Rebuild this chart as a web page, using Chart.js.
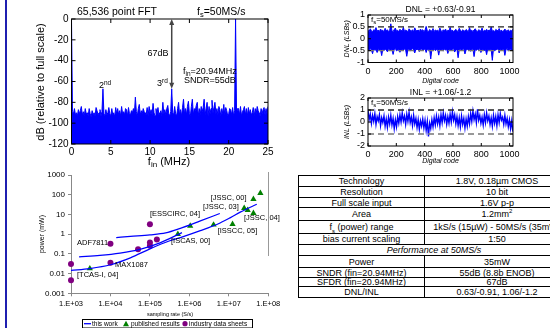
<!DOCTYPE html>
<html>
<head>
<meta charset="utf-8">
<title>10-bit ADC summary</title>
<script src="https://cdn.jsdelivr.net/npm/chart.js@4/dist/chart.umd.min.js"></script>
<style>
  body { margin: 0; background: #fff; width: 550px; height: 328px; overflow: hidden; position: relative;
         font-family: "Liberation Sans", Arial, sans-serif; }
  #edge { position: absolute; left: 5px; top: 0; width: 2px; height: 328px; background: #1f1fb0; z-index: 5; }
  #spec { position: absolute; left: 298px; top: 175px; width: 271px; border-collapse: collapse;
          table-layout: fixed; font-size: 9px; }
  #spec td { border: 1px solid #000; padding: 0; text-align: center; line-height: 8px; white-space: nowrap; overflow: hidden; }
  #spec sup, #spec sub { font-size: 6px; line-height: 0; }
</style>
</head>
<body>
<div id="edge"></div>
<table id="spec"><colgroup><col style="width:126px"><col style="width:145px"></colgroup><tbody></tbody></table>
<script>
// ---- FFT spectrum, one value per 0.125 MHz bin (dBFS) ----
const fftBinMHz = 0.125;
const fftDb = [
  0, -89, -91, -86, -92, -90, -93, -87,
  -91, -88, -84, -92, -89, -93, -86, -91,
  -90, -93, -86, -91, -94, -88, -92, -90,
  -93, -85, -88, -92, -90, -87, -93, -89,
  -67, -91, -93, -87, -92, -90, -85, -91,
  -93, -86, -92, -90, -94, -85, -91, -86,
  -92, -88, -93, -84, -91, -89, -92, -86,
  -87, -93, -85, -91, -92, -88, -90, -86,
  -91, -75, -89, -93, -86, -82, -92, -88,
  -91, -86, -89, -90, -92, -85, -93, -84,
  -91, -87, -92, -81, -90, -93, -86, -91,
  -85, -92, -90, -88, -93, -80, -91, -87,
  -92, -86, -83, -91, -93, -89, -67, -90,
  -92, -84, -91, -93, -86, -80, -92, -87,
  -93, -85, -77, -91, -86, -92, -84, -79,
  -91, -93, -84, -77, -92, -86, -88, -83,
  -80, -93, -86, -92, -84, -89, -85, -77,
  -92, -86, -80, -93, -84, -91, -86, -78,
  -90, -85, -80, -91, -86, -92, -84, -87,
  -93, -86, -91, -82, -92, -85, -88, -93,
  -91, -86, -87, -92, -85, -93, -88, 0,
  -91, -86, -86, -92, -84, -93, -89, -87,
  -84, -92, -86, -93, -85, -91, -87, -92,
  -90, -85, -93, -86, -91, -84, -88, -90,
  -93, -86, -91, -87, -85, -92, -86, -91,
  -84
];
const thirdMHz = 12.75, thirdDb = -67;

// ---- DNL (upper / lower envelope per 8 codes) ----
const dnlHigh = [
  0.36,0.31,0.42,0.33,0.29,0.38,0.35,0.47,0.32,0.37,0.30,0.41,0.34,0.36,0.29,0.44,
  0.33,0.38,0.31,0.35,0.63,0.34,0.30,0.39,0.45,0.32,0.36,0.29,0.40,0.35,0.33,0.48,
  0.31,0.37,0.34,0.30,0.42,0.36,0.32,0.38,0.29,0.46,0.35,0.33,0.37,0.30,0.41,0.34,
  0.38,0.31,0.36,0.52,0.33,0.29,0.39,0.35,0.32,0.43,0.30,0.37,0.34,0.36,0.31,0.45,
  0.35,0.30,0.38,0.33,0.41,0.29,0.36,0.34,0.48,0.32,0.37,0.30,0.35,0.40,0.33,0.31,
  0.44,0.36,0.29,0.38,0.34,0.32,0.39,0.35,0.30,0.47,0.33,0.36,0.31,0.37,0.42,0.34,
  0.30,0.38,0.35,0.32,0.45,0.29,0.36,0.33,0.40,0.31,0.37,0.34,0.50,0.32,0.35,0.30,
  0.39,0.36,0.33,0.43,0.31,0.37,0.29,0.35,0.41,0.34,0.32,0.38,0.30,0.36,0.33,0.40
];
const dnlLow = [
  -0.44,-0.52,-0.41,-0.47,-0.63,-0.43,-0.49,-0.45,-0.58,-0.42,-0.48,-0.46,-0.71,-0.44,-0.50,-0.43,
  -0.47,-0.55,-0.42,-0.46,-0.49,-0.44,-0.66,-0.45,-0.41,-0.51,-0.48,-0.43,-0.57,-0.46,-0.44,-0.50,
  -0.42,-0.47,-0.74,-0.45,-0.43,-0.52,-0.46,-0.41,-0.48,-0.60,-0.44,-0.47,-0.42,-0.54,-0.45,-0.43,
  -0.49,-0.46,-0.42,-0.58,-0.44,-0.47,-0.43,-0.85,-0.45,-0.48,-0.41,-0.50,-0.46,-0.44,-0.69,-0.43,
  -0.47,-0.45,-0.52,-0.42,-0.48,-0.44,-0.62,-0.46,-0.43,-0.49,-0.45,-0.41,-0.56,-0.47,-0.44,-0.80,
  -0.46,-0.43,-0.50,-0.45,-0.42,-0.64,-0.47,-0.44,-0.48,-0.43,-0.53,-0.46,-0.42,-0.75,-0.45,-0.49,
  -0.44,-0.47,-0.41,-0.58,-0.46,-0.43,-0.50,-0.45,-0.67,-0.42,-0.48,-0.44,-0.46,-0.91,-0.43,-0.51,
  -0.47,-0.45,-0.42,-0.60,-0.44,-0.48,-0.46,-0.43,-0.70,-0.45,-0.41,-0.52,-0.47,-0.44,-0.49,-0.46
];
const dnlLimits = [0.5, -0.5];
const dnlTicks = [-1, -0.5, 0, 0.5, 1];

// ---- INL ----
const inlLsb = [
  0.95,0.20,0.65,-0.10,0.55,0.05,0.70,-0.20,0.45,0.10,0.60,-0.30,0.35,-0.05,0.50,-0.35,
  0.25,-0.45,0.40,-0.15,0.55,-0.25,0.30,-0.55,0.20,-0.40,0.45,-0.10,0.60,0.00,0.75,0.10,
  0.50,-0.20,0.65,0.05,0.80,-0.05,0.40,-0.30,0.55,-0.15,0.30,-0.45,0.20,-0.60,0.10,-0.35,
  0.25,-0.50,0.15,-0.70,0.05,-1.20,-0.10,-0.55,0.20,-0.40,0.35,-0.25,0.50,-0.15,0.40,-0.30,
  0.60,-0.05,0.75,0.10,0.55,-0.20,0.45,-0.10,0.65,0.00,0.85,0.15,0.60,-0.15,0.45,-0.30,
  0.35,-0.40,0.50,-0.20,0.30,-0.50,0.25,-0.35,0.45,-0.15,0.70,0.05,0.90,0.20,0.65,-0.05,
  1.06,0.15,0.55,-0.10,0.40,-0.25,0.60,-0.05,0.75,0.10,0.50,-0.20,0.35,-0.35,0.55,-0.10,
  0.45,-0.30,0.60,-0.05,0.70,0.15,0.40,-0.20,0.55,-0.15,0.30,-0.40,0.20,-0.55,0.10,-0.80
];
const inlLimits = [1, -1];
const inlTicks = [-2, -1, 0, 1, 2];
const codeTicks = [0, 200, 400, 600, 800, 1000];

// ---- power vs sampling rate ----
const publishedRate  = [3e3, 5.1e5, 1.05e6, 4.1e6, 1.24e7, 2.45e7, 3.0e7, 4.2e7, 4.2e7, 6.3e7];
const publishedPower = [0.018, 1.0, 2.6, 3.0, 3.2, 21, 16.6, 11.7, 60, 120];
const industryRate   = [1e3, 1e3, 1e4, 1e4, 5e4, 1e5, 1e5, 1e5, 1.5e5];
const industryPower  = [0.031, 0.0046, 0.33, 0.035, 0.17, 3.2, 0.38, 0.26, 0.53];
const workRateA  = [1.4e4, 3.2e4, 1.0e5, 2.5e5, 5.9e5, 1.9e6, 5.9e6];
const workPowerA = [0.67, 0.77, 0.92, 1.16, 1.97, 4.7, 11.1];
const workRateB  = [1.6e3, 5.4e3, 1.75e4, 5.6e4, 1.8e5, 6.5e5];
const workPowerB = [0.071, 0.084, 0.11, 0.17, 0.36, 1.2];
const workRateC  = [1.0e3, 3.0e3, 1.0e4, 3.2e4, 1.0e5, 3.2e5, 5.9e5, 1.9e6, 6.0e6, 1.1e7, 2.0e7, 5.1e7];
const workPowerC = [0.0145, 0.018, 0.028, 0.063, 0.18, 0.46, 0.67, 1.5, 3.7, 6.9, 13.5, 33];
const rateTicks = [1e3, 1e4, 1e5, 1e6, 1e7, 1e8];
const rateTickLabels = ['1.E+03', '1.E+04', '1.E+05', '1.E+06', '1.E+07', '1.E+08'];
const powerTicks = [0.001, 0.01, 0.1, 1, 10, 100, 1000];
const powerTickLabels = ['0.001', '0.01', '0.1', '1', '10', '100', '1000'];

// ---- spec table ----
const specRows = [
  ['Technology', '1.8V, 0.18µm CMOS'],
  ['Resolution', '10 bit'],
  ['Full scale input', '1.6V p-p'],
  ['Area', '1.2mm<sup>2</sup>'],
  ['f<sub>s</sub> (power) range', '1kS/s (15µW) - 50MS/s (35mW)'],
  ['bias current scaling', '1:50'],
  ['<i>Performance at 50MS/s</i>'],
  ['Power', '35mW'],
  ['SNDR (fin=20.94MHz)', '55dB (8.8b ENOB)'],
  ['SFDR (fin=20.94MHz)', '67dB'],
  ['DNL/INL', '0.63/-0.91, 1.06/-1.2']
];
const specRowHeights = [11, 11, 10, 13, 13, 11, 11, 12, 10, 9, 11];

const tbody = document.querySelector('#spec tbody');
specRows.forEach((r, i) => {
  const tr = document.createElement('tr');
  tr.style.height = specRowHeights[i] + 'px';
  tr.innerHTML = r.length === 1 ? `<td colspan="2">${r[0]}</td>` : `<td>${r[0]}</td><td>${r[1]}</td>`;
  tbody.appendChild(tr);
});

// ---- helpers ----
const FONT = '"Liberation Sans", Arial, sans-serif';
Chart.defaults.font.family = FONT;
Chart.defaults.color = '#000';
Chart.defaults.animation = false;
Chart.defaults.plugins.legend.display = false;
Chart.defaults.plugins.tooltip.enabled = false;
Chart.defaults.layout.autoPadding = false;

function makeCanvas(left, top, w, h) {
  const c = document.createElement('canvas');
  c.width = w; c.height = h;
  c.style.cssText = `position:absolute;left:${left}px;top:${top}px;width:${w}px;height:${h}px`;
  document.body.appendChild(c);
  return c.getContext('2d');
}

function fixSize(size) {
  return s => {
    if (s.isHorizontal()) s.height = size; else s.width = size;
    s.paddingLeft = s.paddingRight = s.paddingTop = s.paddingBottom = 0;
  };
}

const setTicks = values => s => { s.ticks = values.map(v => ({ value: v })); };

// label looked up by value, so order or skipping cannot shift it
const labelFor = (values, labels) => v => {
  const k = values.findIndex(t => Math.abs(Math.log10(t) - Math.log10(v)) < 1e-6);
  return k < 0 ? '' : labels[k];
};

// parts: [text, size, dy, italic]
function rich(ctx, x, y, parts, align) {
  const f = p => `${p[3] ? 'italic ' : ''}${p[1]}px ${FONT}`;
  let w = 0;
  parts.forEach(p => { ctx.font = f(p); w += ctx.measureText(p[0]).width; });
  let cx = align === 'center' ? x - w / 2 : align === 'right' ? x - w : x;
  ctx.textAlign = 'left';
  ctx.textBaseline = 'middle';
  parts.forEach(p => {
    ctx.font = f(p);
    ctx.fillText(p[0], cx, y + (p[2] || 0));
    cx += ctx.measureText(p[0]).width;
  });
}

function richUp(ctx, x, y, parts) {
  ctx.save();
  ctx.translate(x, y);
  ctx.rotate(-Math.PI / 2);
  rich(ctx, 0, 0, parts, 'center');
  ctx.restore();
}

function line(ctx, x1, y1, x2, y2) {
  ctx.beginPath(); ctx.moveTo(x1, y1); ctx.lineTo(x2, y2); ctx.stroke();
}

// matlab style box, inside ticks and dashed limit lines
const frame = {
  id: 'frame',
  afterDatasetsDraw(chart, args, o) {
    const { ctx, chartArea: a } = chart;
    const sx = chart.scales.x, sy = chart.scales.y;
    ctx.save();
    (o.limits || []).forEach((v, i) => {
      const py = sy.getPixelForValue(v);
      ctx.strokeStyle = o.limitColors[i];
      ctx.lineWidth = 1.4;
      ctx.setLineDash([6, 4]);
      line(ctx, a.left, py, a.right, py);
    });
    ctx.setLineDash([]);
    ctx.strokeStyle = '#000';
    ctx.lineWidth = 1;
    ctx.strokeRect(a.left, a.top, a.right - a.left, a.bottom - a.top);
    const t = o.tick || 3;
    sx.ticks.forEach(tk => {
      const px = sx.getPixelForValue(tk.value);
      line(ctx, px, a.bottom, px, a.bottom - t);
      line(ctx, px, a.top, px, a.top + t);
    });
    sy.ticks.forEach(tk => {
      const py = sy.getPixelForValue(tk.value);
      line(ctx, a.left, py, a.left + t, py);
      line(ctx, a.right, py, a.right - t, py);
    });
    ctx.restore();
  }
};

const plainTicks = v => String(v);

// ---- FFT ----
const fftNotes = {
  id: 'fftNotes',
  afterDraw(chart) {
    const { ctx } = chart;
    const sx = chart.scales.x, sy = chart.scales.y;
    ctx.save();
    ctx.fillStyle = '#000';
    rich(ctx, 77, 12, [['65,536 point FFT', 10.5]]);
    rich(ctx, 197, 12, [['f', 10.5], ['s', 7.5, 3], ['=50MS/s', 10.5]]);
    richUp(ctx, 41, 82, [['dB (relative to full scale)', 11]]);
    rich(ctx, 169, 162, [['f', 11], ['in', 8, 3], [' (MHz)', 11]], 'center');
    rich(ctx, 158, 54, [['67dB', 9]], 'center');
    rich(ctx, 99, 86, [['2', 9], ['nd', 6.5, -3]]);
    rich(ctx, 157, 84, [['3', 9], ['rd', 6.5, -3]]);
    rich(ctx, 183, 72, [['f', 9], ['in', 6.5, 2.5], ['=20.94MHz', 9]]);
    rich(ctx, 184, 81, [['SNDR=55dB', 9]]);
    // double arrow: full scale to 3rd harmonic
    const ax = sx.getPixelForValue(thirdMHz);
    const y0 = sy.getPixelForValue(0), y1 = sy.getPixelForValue(thirdDb);
    ctx.strokeStyle = '#444'; ctx.fillStyle = '#444'; ctx.lineWidth = 1.5;
    line(ctx, ax, y0 + 3, ax, y1 - 3);
    ctx.beginPath(); ctx.moveTo(ax, y0); ctx.lineTo(ax - 2.5, y0 + 6); ctx.lineTo(ax + 2.5, y0 + 6); ctx.fill();
    ctx.beginPath(); ctx.moveTo(ax, y1); ctx.lineTo(ax - 2.5, y1 - 6); ctx.lineTo(ax + 2.5, y1 - 6); ctx.fill();
    ctx.restore();
  }
};

new Chart(makeCanvas(0, 0, 280, 170), {
  type: 'line',
  data: {
    datasets: [{
      data: fftDb.map((v, i) => ({ x: i * fftBinMHz, y: v })),
      borderColor: '#0000ff', backgroundColor: '#0000ff',
      borderWidth: 1, pointRadius: 0, fill: 'start', tension: 0
    }]
  },
  options: {
    responsive: false,
    layout: { padding: { top: 19, right: 12, left: 0, bottom: 0 } },
    scales: {
      x: { type: 'linear', min: 0, max: 25, afterBuildTicks: setTicks([0, 5, 10, 15, 20, 25]),
           ticks: { padding: 2, maxRotation: 0, autoSkip: false, font: { size: 10 }, callback: plainTicks },
           grid: { display: false, drawTicks: false }, border: { display: false }, afterFit: fixSize(26) },
      y: { min: -120, max: 0, afterBuildTicks: setTicks([-120, -100, -80, -60, -40, -20, 0]),
           ticks: { padding: 3, autoSkip: false, font: { size: 10 }, callback: plainTicks },
           grid: { display: false, drawTicks: false }, border: { display: false }, afterFit: fixSize(71.5) }
    },
    plugins: { frame: { tick: 4 } }
  },
  plugins: [frame, fftNotes]
});

// ---- DNL / INL ----
function codeChart(left, top, h, padTop, axisH, yMin, yMax, yTicks, datasets, limits, title, yName, tickPad, fsY) {
  const notes = {
    id: 'codeNotes',
    afterDraw(chart) {
      const { ctx, chartArea: a } = chart;
      const cx = (a.left + a.right) / 2;
      ctx.save();
      ctx.fillStyle = '#000';
      rich(ctx, cx, a.top - 5, [[title, 8.5]], 'center');
      rich(ctx, a.left + 3, fsY, [['f', 8], ['s', 6, 2], ['=50MS/s', 8]]);
      richUp(ctx, 57, (a.top + a.bottom) / 2, [[yName, 7, 0, true]]);
      rich(ctx, cx, chart.height - 4, [['Digital code', 7, 0, true]], 'center');
      ctx.restore();
    }
  };
  new Chart(makeCanvas(left, top, 260, h), {
    type: 'line',
    data: { datasets },
    options: {
      responsive: false,
      layout: { padding: { top: padTop, right: 37, left: 0, bottom: 0 } },
      scales: {
        x: { type: 'linear', min: 0, max: 1024, afterBuildTicks: setTicks(codeTicks),
             ticks: { padding: tickPad, maxRotation: 0, autoSkip: false, font: { size: 9 }, callback: plainTicks },
             grid: { display: false, drawTicks: false }, border: { display: false }, afterFit: fixSize(axisH) },
        y: { min: yMin, max: yMax, afterBuildTicks: setTicks(yTicks),
             ticks: { padding: 3, autoSkip: false, font: { size: 9 }, callback: plainTicks },
             grid: { display: false, drawTicks: false }, border: { display: false }, afterFit: fixSize(78) }
      },
      plugins: { frame: { tick: 3, limits, limitColors: ['#222', '#777'] } }
    },
    plugins: [frame, notes]
  });
}

const dnlCode = i => i * 1023 / (dnlHigh.length - 1);
codeChart(290, 0, 85, 15, 22.5, -1, 1, dnlTicks, [
  { data: dnlHigh.map((v, i) => ({ x: dnlCode(i), y: v })), borderColor: '#0000ff', backgroundColor: '#0000ff',
    borderWidth: 1, pointRadius: 0, fill: '+1' },
  { data: dnlLow.map((v, i) => ({ x: dnlCode(i), y: v })), borderColor: '#0000ff',
    borderWidth: 1, pointRadius: 0, fill: false }
], dnlLimits, 'DNL = +0.63/-0.91', 'DNL (LSBs)', 4, 20);

const inlCode = i => i * 1023 / (inlLsb.length - 1);
codeChart(290, 85, 80, 13, 19, -2, 2, inlTicks, [
  { data: inlLsb.map((v, i) => ({ x: inlCode(i), y: v })), borderColor: '#0000ff',
    borderWidth: 1.4, pointRadius: 0, fill: false }
], inlLimits, 'INL = +1.06/-1.2', 'INL (LSBs)', 3, 18);

// ---- power vs sampling rate ----
const pts = (xs, ys) => xs.map((x, i) => ({ x, y: ys[i] }));
const workLine = (xs, ys) => ({
  label: 'this work', data: pts(xs, ys), showLine: true, borderColor: '#0000ff', borderWidth: 1.2,
  pointRadius: 0, cubicInterpolationMode: 'monotone', fill: false
});

const powerNotes = {
  id: 'powerNotes',
  afterDraw(chart) {
    const { ctx } = chart;
    const ds = chart.data.datasets;
    ctx.save();
    ctx.fillStyle = '#000';
    const lab = [
      ['ADF7811', 77, 78], ['MAX1087', 115, 100], ['[TCAS-I, 04]', 77, 110],
      ['[ESSCIRC, 04]', 150, 49], ['[ISCAS, 00]', 171, 76], ['[JSSC, 03]', 203, 41.7],
      ['[JSSC, 00]', 210.7, 33.3], ['[JSSC, 04]', 244, 53.3], ['[ISSCC, 05]', 217.7, 66]
    ];
    lab.forEach(l => rich(ctx, l[1], l[2], [[l[0], 7.5]]));
    richUp(ctx, 42, 69, [['power (mW)', 7]]);
    rich(ctx, 170, 149, [['sampling rate (S/s)', 5.5]], 'center');
    // frame edge on the right
    ctx.strokeStyle = '#999'; ctx.lineWidth = 1;
    line(ctx, 268.5, 7, 268.5, 91);
    // legend
    ctx.strokeStyle = '#000';
    ctx.strokeRect(82.5, 154.5, 170, 8.5);
    ctx.strokeStyle = '#0000ff'; ctx.lineWidth = 1.3;
    line(ctx, 84, 158.7, 91, 158.7);
    ctx.fillStyle = '#000';
    rich(ctx, 92, 159, [[ds[0].label, 6.5]]);
    ctx.fillStyle = '#008000';
    ctx.beginPath(); ctx.moveTo(126, 155.8); ctx.lineTo(129, 161.2); ctx.lineTo(123, 161.2); ctx.fill();
    ctx.fillStyle = '#000';
    rich(ctx, 131, 159, [[ds[3].label, 6.5]]);
    ctx.fillStyle = '#800080';
    ctx.beginPath(); ctx.arc(185, 158.7, 2.6, 0, Math.PI * 2); ctx.fill();
    ctx.fillStyle = '#000';
    rich(ctx, 189, 159, [[ds[4].label, 6.5]]);
    ctx.restore();
  }
};

new Chart(makeCanvas(0, 165, 290, 163), {
  type: 'scatter',
  data: {
    datasets: [
      workLine(workRateA, workPowerA),
      workLine(workRateB, workPowerB),
      workLine(workRateC, workPowerC),
      { label: 'published results', data: pts(publishedRate, publishedPower), pointStyle: 'triangle',
        pointRadius: 3.6, backgroundColor: '#008000', borderColor: '#008000', borderWidth: 0, clip: false },
      { label: 'industry data sheets', data: pts(industryRate, industryPower), pointStyle: 'circle',
        pointRadius: 3, backgroundColor: '#800080', borderColor: '#800080', borderWidth: 0, clip: false }
    ]
  },
  options: {
    responsive: false,
    layout: { padding: { top: 10, right: 21.7, left: 0, bottom: 0 } },
    scales: {
      x: { type: 'logarithmic', min: 1e3, max: 1e8, afterBuildTicks: setTicks(rateTicks),
           ticks: { padding: 3, maxRotation: 0, autoSkip: false, font: { size: 7.5 },
                    callback: labelFor(rateTicks, rateTickLabels) },
           grid: { display: true, drawOnChartArea: false, drawTicks: true, tickLength: 3, color: '#888' },
           border: { display: true, color: '#888' }, afterFit: fixSize(34.7) },
      y: { type: 'logarithmic', min: 0.001, max: 1000, afterBuildTicks: setTicks(powerTicks),
           ticks: { padding: 3, autoSkip: false, font: { size: 8 },
                    callback: labelFor(powerTicks, powerTickLabels) },
           grid: { display: true, drawOnChartArea: false, drawTicks: true, tickLength: 3, color: '#888' },
           border: { display: true, color: '#888' }, afterFit: fixSize(71) }
    }
  },
  plugins: [powerNotes]
});
</script>
</body>
</html>
